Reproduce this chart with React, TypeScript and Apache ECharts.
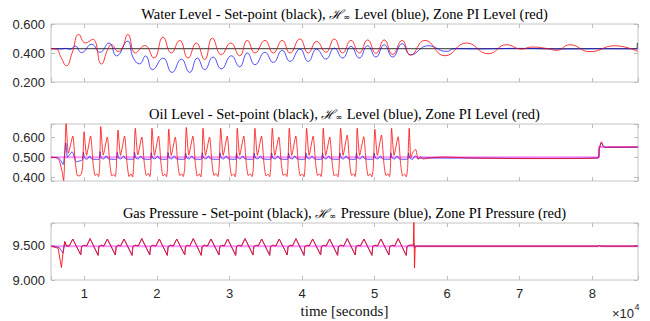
import React, { useEffect, useRef } from "react";
import * as echarts from "echarts";

// ---- axis ranges (x in units of 10^4 seconds) ----
const X_MIN = 0.54;
const X_MAX = 8.63;
const WATER_RANGE = [0.2, 0.6];
const OIL_RANGE = [0.383, 0.665];
const GAS_RANGE = [9.0, 9.82];

const titles = [
  ["Water Level - Set-point (black), ", " Level (blue), Zone PI Level (red)"],
  ["Oil Level - Set-point (black), ", " Level (blue), Zone PI Level (red)"],
  ["Gas Pressure - Set-point (black), ", " Pressure (blue), Zone PI Pressure (red)"],
];
const xAxisTitle = "time [seconds]";

// ---- Water level ----
const waterSetpoint = [[0.54, 0.43], [8.618, 0.43], [8.622, 0.47], [8.63, 0.47]];
const waterHinf = [
  [0.541, 0.43], [0.69, 0.428], [0.744, 0.432], [0.803, 0.425], [0.872, 0.448], [0.961, 0.403],
  [1.099, 0.46], [1.216, 0.405], [1.34, 0.469], [1.444, 0.38], [1.595, 0.482], [1.675, 0.365],
  [1.763, 0.325], [1.843, 0.38], [1.939, 0.285], [2.084, 0.365], [2.208, 0.266], [2.336, 0.358],
  [2.452, 0.266], [2.556, 0.365], [2.658, 0.285], [2.773, 0.372], [2.887, 0.29], [3.025, 0.381],
  [3.14, 0.305], [3.245, 0.4], [3.351, 0.319], [3.489, 0.405], [3.603, 0.335], [3.727, 0.418],
  [3.833, 0.342], [3.971, 0.427], [4.085, 0.342], [4.201, 0.427], [4.329, 0.358], [4.444, 0.434],
  [4.559, 0.365], [4.674, 0.446], [4.788, 0.365], [4.904, 0.45], [5.018, 0.372], [5.132, 0.457],
  [5.248, 0.372], [5.38, 0.464], [5.496, 0.388], [5.738, 0.45], [5.992, 0.411], [6.107, 0.43],
  [6.451, 0.428], [7.002, 0.432], [7.553, 0.427], [8.104, 0.429], [8.627, 0.428],
];
const waterPI = [
  [0.541, 0.43], [0.61, 0.428], [0.679, 0.37], [0.752, 0.312], [0.831, 0.4], [0.923, 0.528],
  [1.014, 0.469], [1.116, 0.495], [1.234, 0.324], [1.326, 0.43], [1.372, 0.457], [1.464, 0.411],
  [1.519, 0.43], [1.601, 0.528], [1.702, 0.4], [1.832, 0.452], [1.96, 0.365], [2.084, 0.51],
  [2.198, 0.4], [2.314, 0.487], [2.428, 0.365], [2.543, 0.469], [2.658, 0.354], [2.763, 0.503],
  [2.887, 0.388], [3.017, 0.469], [3.14, 0.381], [3.245, 0.487], [3.351, 0.4], [3.489, 0.487],
  [3.603, 0.4], [3.727, 0.487], [3.833, 0.4], [3.971, 0.497], [4.085, 0.4], [4.201, 0.48],
  [4.329, 0.405], [4.444, 0.497], [4.559, 0.4], [4.674, 0.487], [4.788, 0.4], [4.904, 0.49],
  [5.018, 0.397], [5.132, 0.49], [5.248, 0.39], [5.38, 0.487], [5.496, 0.385], [5.693, 0.487],
  [5.968, 0.381], [6.267, 0.469], [6.565, 0.395], [6.818, 0.457], [7.025, 0.427], [7.163, 0.441],
  [7.391, 0.43], [7.507, 0.418], [7.69, 0.457], [7.966, 0.409], [8.31, 0.45], [8.627, 0.411],
];

// ---- Oil level ----
const oilSetpoint = [[0.54, 0.5], [8.09, 0.5], [8.09, 0.551], [8.63, 0.551]];
const oilHinf = [
  [0.541, 0.5], [0.62, 0.499], [0.66, 0.492], [0.707, 0.465], [0.744, 0.572], [0.766, 0.5],
  [0.79, 0.51], [0.831, 0.528], [0.89, 0.478], [0.959, 0.485],
  [0.975, 0.488], [0.986, 0.525], [1.003, 0.497], [1.037, 0.49], [1.072, 0.507], [1.099, 0.492], [1.186, 0.49],
  [1.205, 0.491], [1.216, 0.528], [1.233, 0.497], [1.267, 0.492], [1.302, 0.508], [1.329, 0.493], [1.416, 0.49],
  [1.443, 0.491], [1.454, 0.524], [1.471, 0.497], [1.505, 0.492], [1.54, 0.507], [1.567, 0.493], [1.654, 0.49],
  [1.681, 0.491], [1.692, 0.525], [1.709, 0.497], [1.743, 0.492], [1.778, 0.507], [1.805, 0.493], [1.892, 0.49],
  [1.911, 0.491], [1.922, 0.523], [1.939, 0.497], [1.973, 0.492], [2.008, 0.507], [2.035, 0.493], [2.122, 0.49],
  [2.142, 0.491], [2.153, 0.524], [2.17, 0.497], [2.204, 0.492], [2.239, 0.507], [2.266, 0.493], [2.353, 0.49],
  [2.384, 0.491], [2.395, 0.522], [2.412, 0.497], [2.446, 0.492], [2.481, 0.507], [2.508, 0.493], [2.595, 0.49],
  [2.614, 0.491], [2.625, 0.523], [2.642, 0.497], [2.676, 0.492], [2.711, 0.507], [2.738, 0.493], [2.825, 0.49],
  [2.858, 0.491], [2.869, 0.522], [2.886, 0.497], [2.92, 0.492], [2.955, 0.507], [2.982, 0.493], [3.069, 0.49],
  [3.086, 0.491], [3.097, 0.522], [3.114, 0.497], [3.148, 0.492], [3.183, 0.507], [3.21, 0.493], [3.297, 0.49],
  [3.33, 0.491], [3.341, 0.521], [3.358, 0.497], [3.392, 0.492], [3.427, 0.507], [3.454, 0.493], [3.541, 0.49],
  [3.569, 0.491], [3.58, 0.522], [3.597, 0.497], [3.631, 0.492], [3.666, 0.507], [3.693, 0.493], [3.78, 0.49],
  [3.803, 0.491], [3.814, 0.522], [3.831, 0.497], [3.865, 0.492], [3.9, 0.507], [3.927, 0.493], [4.014, 0.49],
  [4.042, 0.491], [4.053, 0.522], [4.07, 0.497], [4.104, 0.492], [4.139, 0.507], [4.166, 0.493], [4.253, 0.49],
  [4.271, 0.491], [4.282, 0.521], [4.299, 0.497], [4.333, 0.492], [4.368, 0.507], [4.395, 0.493], [4.482, 0.49],
  [4.511, 0.491], [4.522, 0.522], [4.539, 0.497], [4.573, 0.492], [4.608, 0.507], [4.635, 0.493], [4.722, 0.49],
  [4.739, 0.491], [4.75, 0.522], [4.767, 0.497], [4.801, 0.492], [4.836, 0.507], [4.863, 0.493], [4.95, 0.49],
  [4.983, 0.491], [4.994, 0.521], [5.011, 0.497], [5.045, 0.492], [5.08, 0.507], [5.107, 0.493], [5.194, 0.49],
  [5.213, 0.491], [5.224, 0.522], [5.241, 0.497], [5.275, 0.492], [5.31, 0.507], [5.337, 0.493], [5.424, 0.49],
  [5.456, 0.491], [5.467, 0.522], [5.484, 0.497], [5.52, 0.49], [5.56, 0.508], [5.6, 0.495], [5.7, 0.497],
  [6.5, 0.496], [7.3, 0.495], [8.083, 0.497], [8.096, 0.54], [8.124, 0.573], [8.152, 0.553], [8.2, 0.55], [8.627, 0.55],
];
const oilPI = [
  [0.541, 0.5], [0.61, 0.499], [0.652, 0.485], [0.689, 0.437], [0.714, 0.385], [0.731, 0.52],
  [0.748, 0.668], [0.78, 0.52], [0.84, 0.605], [0.872, 0.487], [0.899, 0.412], [0.927, 0.408],
  [0.955, 0.415], [0.975, 0.45],
  [0.996, 0.627], [1.03, 0.51], [1.086, 0.605], [1.12, 0.47], [1.148, 0.41], [1.175, 0.418], [1.196, 0.405], [1.21, 0.45],
  [1.226, 0.652], [1.26, 0.511], [1.316, 0.6], [1.35, 0.47], [1.378, 0.408], [1.405, 0.415], [1.426, 0.405], [1.44, 0.45],
  [1.464, 0.635], [1.498, 0.51], [1.554, 0.605], [1.588, 0.47], [1.616, 0.405], [1.643, 0.418], [1.664, 0.403], [1.678, 0.45],
  [1.702, 0.644], [1.736, 0.512], [1.792, 0.6], [1.826, 0.47], [1.854, 0.41], [1.881, 0.42], [1.902, 0.405], [1.916, 0.45],
  [1.932, 0.644], [1.966, 0.51], [2.022, 0.605], [2.056, 0.47], [2.084, 0.408], [2.111, 0.417], [2.132, 0.404], [2.146, 0.45],
  [2.163, 0.64], [2.197, 0.51], [2.253, 0.6], [2.287, 0.47], [2.315, 0.41], [2.342, 0.418], [2.363, 0.405], [2.383, 0.45],
  [2.405, 0.648], [2.439, 0.511], [2.495, 0.605], [2.529, 0.47], [2.557, 0.407], [2.584, 0.418], [2.605, 0.404], [2.619, 0.45],
  [2.635, 0.644], [2.669, 0.51], [2.725, 0.6], [2.759, 0.47], [2.787, 0.41], [2.814, 0.42], [2.84, 0.405], [2.857, 0.45],
  [2.879, 0.644], [2.913, 0.51], [2.969, 0.605], [3.003, 0.47], [3.031, 0.408], [3.058, 0.418], [3.079, 0.404], [3.093, 0.45],
  [3.107, 0.644], [3.141, 0.51], [3.197, 0.605], [3.231, 0.47], [3.259, 0.41], [3.286, 0.418], [3.312, 0.405], [3.329, 0.45],
  [3.351, 0.644], [3.385, 0.51], [3.441, 0.605], [3.475, 0.47], [3.503, 0.408], [3.53, 0.417], [3.553, 0.404], [3.568, 0.45],
  [3.59, 0.644], [3.624, 0.51], [3.68, 0.6], [3.714, 0.47], [3.742, 0.41], [3.769, 0.418], [3.79, 0.405], [3.804, 0.45],
  [3.824, 0.644], [3.858, 0.51], [3.914, 0.605], [3.948, 0.47], [3.976, 0.408], [4.003, 0.418], [4.026, 0.404], [4.041, 0.45],
  [4.063, 0.644], [4.097, 0.51], [4.153, 0.605], [4.187, 0.47], [4.215, 0.41], [4.242, 0.418], [4.263, 0.405], [4.277, 0.45],
  [4.292, 0.644], [4.326, 0.51], [4.382, 0.6], [4.416, 0.47], [4.444, 0.408], [4.471, 0.417], [4.494, 0.404], [4.51, 0.45],
  [4.532, 0.644], [4.566, 0.51], [4.622, 0.61], [4.656, 0.47], [4.684, 0.41], [4.711, 0.418], [4.732, 0.405], [4.746, 0.45],
  [4.76, 0.644], [4.794, 0.51], [4.85, 0.602], [4.884, 0.47], [4.912, 0.408], [4.939, 0.418], [4.963, 0.404], [4.982, 0.45],
  [5.004, 0.639], [5.038, 0.51], [5.094, 0.61], [5.128, 0.47], [5.156, 0.41], [5.183, 0.418], [5.204, 0.405], [5.218, 0.45],
  [5.234, 0.644], [5.268, 0.51], [5.324, 0.602], [5.358, 0.47], [5.386, 0.408], [5.413, 0.417], [5.436, 0.404], [5.455, 0.45],
  [5.477, 0.644], [5.5, 0.5], [5.532, 0.528], [5.565, 0.54], [5.601, 0.49], [5.635, 0.505], [5.669, 0.492],
  [5.761, 0.497], [5.941, 0.502], [6.313, 0.497], [7.002, 0.494], [7.553, 0.494], [8.083, 0.497],
  [8.096, 0.54], [8.127, 0.577], [8.152, 0.555], [8.186, 0.548], [8.241, 0.551], [8.627, 0.551],
];

// ---- Gas pressure ----
const gasSetpoint = [[0.54, 9.486], [8.63, 9.486]];
const gasPI = [
  [0.541, 9.486], [0.638, 9.457], [0.684, 9.18], [0.707, 9.41], [0.73, 9.553], [0.752, 9.49],
  [0.792, 9.49], [0.84, 9.59], [0.95, 9.36], [0.961, 9.48], [0.992, 9.5],
  [1.031, 9.49], [1.079, 9.595], [1.189, 9.355], [1.2, 9.48], [1.231, 9.5],
  [1.269, 9.49], [1.317, 9.59], [1.427, 9.36], [1.438, 9.48], [1.469, 9.5],
  [1.499, 9.49], [1.547, 9.59], [1.657, 9.355], [1.668, 9.48], [1.699, 9.5],
  [1.743, 9.49], [1.791, 9.595], [1.901, 9.36], [1.912, 9.48], [1.943, 9.5],
  [1.985, 9.49], [2.033, 9.59], [2.143, 9.355], [2.154, 9.48], [2.185, 9.5],
  [2.225, 9.49], [2.273, 9.59], [2.383, 9.36], [2.394, 9.48], [2.425, 9.5],
  [2.453, 9.49], [2.501, 9.595], [2.611, 9.355], [2.622, 9.48], [2.653, 9.5],
  [2.697, 9.49], [2.745, 9.59], [2.855, 9.36], [2.866, 9.48], [2.897, 9.5],
  [2.927, 9.49], [2.975, 9.59], [3.085, 9.355], [3.096, 9.48], [3.127, 9.5],
  [3.166, 9.49], [3.214, 9.595], [3.324, 9.36], [3.335, 9.48], [3.366, 9.5],
  [3.396, 9.49], [3.444, 9.59], [3.554, 9.355], [3.565, 9.48], [3.596, 9.5],
  [3.638, 9.49], [3.686, 9.59], [3.796, 9.36], [3.807, 9.48], [3.838, 9.5],
  [3.868, 9.49], [3.916, 9.595], [4.026, 9.355], [4.037, 9.48], [4.068, 9.5],
  [4.098, 9.49], [4.146, 9.59], [4.256, 9.36], [4.267, 9.48], [4.298, 9.5],
  [4.332, 9.49], [4.38, 9.59], [4.49, 9.355], [4.501, 9.48], [4.532, 9.5],
  [4.575, 9.49], [4.623, 9.595], [4.733, 9.36], [4.744, 9.48], [4.775, 9.5],
  [4.805, 9.49], [4.853, 9.59], [4.963, 9.355], [4.974, 9.48], [5.005, 9.5],
  [5.039, 9.49], [5.087, 9.59], [5.197, 9.36], [5.208, 9.48], [5.239, 9.5],
  [5.277, 9.49], [5.325, 9.595], [5.435, 9.355], [5.446, 9.48], [5.477, 9.5],
  [5.534, 9.5], [5.541, 9.85], [5.55, 9.17], [5.559, 9.48], [5.583, 9.487],
  [8.08, 9.487], [8.1, 9.495], [8.12, 9.487], [8.627, 9.487],
];
const gasHinfStart = [[0.541, 9.486], [0.65, 9.47], [0.707, 9.386], [0.73, 9.553], [0.752, 9.49]];
const gasHinfEnd = [[5.534, 9.5], [5.541, 9.53], [5.55, 9.46], [5.559, 9.487], [8.08, 9.487], [8.1, 9.497], [8.12, 9.487], [8.627, 9.487]];
// the H-infinity pressure tracks the PI pressure through the oscillating phase
const gasHinf = [...gasHinfStart, ...gasPI.slice(6, gasPI.length - 9), ...gasHinfEnd];

const RED = "rgba(255,0,0,0.78)";
const RED_GAS = "rgba(255,20,20,0.92)";
const BLUE = "rgba(0,0,255,0.68)";
const BOX = "#c4c4c4";
const TICK = "#bdbdbd";
const LABEL = "#262626";

const isMultiple = (v: number, step: number) => Math.abs(v / step - Math.round(v / step)) < 1e-6;

function yAxes(grid: number, range: number[], step: number, right: boolean) {
  return {
    type: "value",
    gridIndex: grid,
    position: right ? "right" : "left",
    min: range[0],
    max: range[1],
    minInterval: step,
    maxInterval: step,
    ...(isMultiple(range[0], step) ? { interval: step } : {}),
    axisLine: { show: false },
    splitLine: { show: false },
    axisTick: { show: true, inside: true, length: 4, lineStyle: { color: TICK } },
    axisLabel: {
      show: !right,
      margin: 6,
      color: LABEL,
      fontFamily: "Liberation Sans",
      fontSize: 13,
      formatter: (v: number) => (isMultiple(v, step) ? v.toFixed(3) : ""),
    },
  };
}

function xAxes(grid: number, top: boolean, labels: boolean) {
  return {
    type: "value",
    gridIndex: grid,
    position: top ? "top" : "bottom",
    min: X_MIN,
    max: X_MAX,
    minInterval: 1,
    maxInterval: 1,
    axisLine: { show: false },
    splitLine: { show: false },
    axisTick: { show: true, inside: true, length: 4, lineStyle: { color: TICK } },
    axisLabel: {
      show: labels,
      margin: 7,
      color: LABEL,
      fontFamily: "Liberation Sans",
      fontSize: 13,
      lineHeight: 13,
      formatter: (v: number) => (isMultiple(v, 1) ? String(Math.round(v)) : ""),
    },
  };
}

function line(data: number[][], grid: number, color: string, width: number, smooth: number | boolean) {
  return {
    type: "line",
    xAxisIndex: grid,
    yAxisIndex: grid,
    data,
    showSymbol: false,
    symbol: "none",
    smooth,
    lineStyle: { color, width },
    silent: true,
    clip: true,
  };
}

function titleText(i: number, y: number) {
  return {
    type: "text",
    x: 344.5,
    y,
    style: {
      text: `{n|${titles[i][0]}}{h|ℋ}{s|∞}{n|${titles[i][1]}}`,
      align: "center",
      verticalAlign: "middle",
      rich: {
        n: { fontFamily: "Liberation Serif", fontSize: 14.5, color: "#111", lineHeight: 16 },
        h: { fontFamily: "DejaVu Serif", fontStyle: "italic", fontSize: 13, color: "#111", lineHeight: 16 },
        s: { fontFamily: "DejaVu Sans", fontSize: 8, color: "#111", lineHeight: 16, padding: [7, 1, 0, 0] },
      },
    },
  };
}

const option = {
  animation: false,
  backgroundColor: "#ffffff",
  grid: [
    { left: 51, right: 12, top: 24, height: 58, show: true, borderColor: BOX, borderWidth: 1, backgroundColor: "transparent" },
    { left: 51, right: 12, top: 124, height: 57, show: true, borderColor: BOX, borderWidth: 1, backgroundColor: "transparent" },
    { left: 51, right: 12, top: 223, height: 57, show: true, borderColor: BOX, borderWidth: 1, backgroundColor: "transparent" },
  ],
  xAxis: [xAxes(0, false, false), xAxes(1, false, false), xAxes(2, false, true), xAxes(0, true, false), xAxes(1, true, false), xAxes(2, true, false)],
  yAxis: [
    yAxes(0, WATER_RANGE, 0.2, false),
    yAxes(1, OIL_RANGE, 0.1, false),
    yAxes(2, GAS_RANGE, 0.5, false),
    yAxes(0, WATER_RANGE, 0.2, true),
    yAxes(1, OIL_RANGE, 0.1, true),
    yAxes(2, GAS_RANGE, 0.5, true),
  ],
  series: [
    line(waterSetpoint, 0, "rgba(50,50,50,0.8)", 1.2, false),
    line(waterHinf, 0, BLUE, 1, 0.5),
    line(waterPI, 0, RED, 1, 0.5),
    line(oilSetpoint, 1, "rgba(255,60,255,0.55)", 2, false),
    line(oilHinf, 1, BLUE, 1, 0.2),
    line(oilPI, 1, RED, 1, 0.2),
    line(gasSetpoint, 2, "rgba(255,60,255,0.55)", 2, false),
    line(gasHinf, 2, BLUE, 1, false),
    line(gasPI, 2, RED_GAS, 1, false),
  ],
  graphic: [
    titleText(0, 14),
    titleText(1, 114),
    titleText(2, 213),
    {
      type: "text",
      x: 344.5,
      y: 310.5,
      style: { text: xAxisTitle, align: "center", verticalAlign: "middle", fontFamily: "Liberation Serif", fontSize: 15, fill: "#111" },
    },
    {
      type: "text",
      x: 634,
      y: 313,
      style: { text: "×10", align: "right", verticalAlign: "middle", fontFamily: "Liberation Sans", fontSize: 13, fill: LABEL },
    },
    {
      type: "text",
      x: 634.5,
      y: 307,
      style: { text: "4", align: "left", verticalAlign: "middle", fontFamily: "Liberation Sans", fontSize: 9, fill: LABEL },
    },
  ],
};

export default function App() {
  const ref = useRef<HTMLDivElement>(null);
  useEffect(() => {
    document.body.style.margin = "0";
    const chart = echarts.init(ref.current as HTMLDivElement, null, { renderer: "svg" });
    chart.setOption(option as any);
    return () => chart.dispose();
  }, []);
  return <div ref={ref} style={{ width: 650, height: 321 }} />;
}
